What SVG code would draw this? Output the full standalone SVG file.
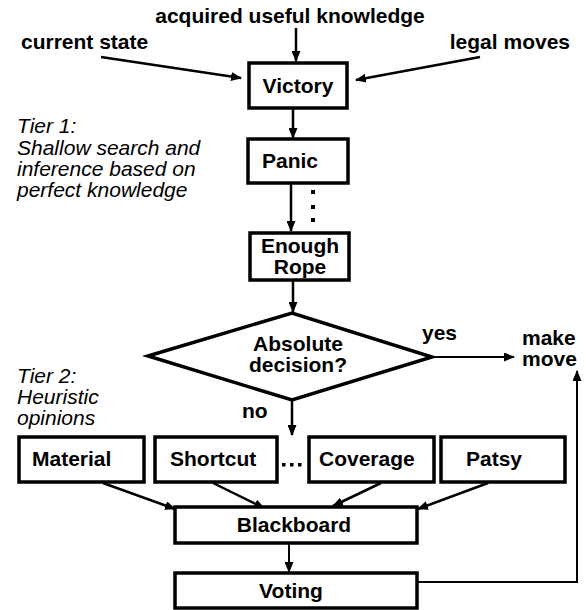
<svg xmlns="http://www.w3.org/2000/svg" width="586" height="610" viewBox="0 0 586 610">
<defs>
<marker id="ah" markerWidth="11" markerHeight="9" refX="10" refY="4.5" orient="auto" markerUnits="userSpaceOnUse">
<path d="M0,0 L11,4.5 L0,9 Z" fill="#000"/>
</marker>
<style>
.box{fill:#fff;stroke:#000;stroke-width:3.5}
.lbl{font-family:"Liberation Sans",Arial,sans-serif;font-weight:bold;font-size:21px;fill:#000}
.it{font-family:"Liberation Sans",Arial,sans-serif;font-style:italic;font-size:21px;fill:#000}
.ln{fill:none;stroke:#000;stroke-width:2.5}
.thin{fill:none;stroke:#000;stroke-width:2}
</style>
</defs>
<rect width="586" height="610" fill="#fff"/>
<g id="texts">
<text class="lbl" x="290" y="23" text-anchor="middle">acquired useful knowledge</text>
<text class="lbl" x="21" y="49">current state</text>
<text class="lbl" x="570" y="49" text-anchor="end">legal moves</text>
<text class="it" x="17" y="133">Tier 1:</text>
<text class="it" x="17" y="155">Shallow search and</text>
<text class="it" x="17" y="176">inference based on</text>
<text class="it" x="17" y="197">perfect knowledge</text>
<text class="it" x="17" y="383">Tier 2:</text>
<text class="it" x="17" y="404">Heuristic</text>
<text class="it" x="17" y="425">opinions</text>
<text class="lbl" x="422" y="340">yes</text>
<text class="lbl" x="522" y="345">make</text>
<text class="lbl" x="522" y="366">move</text>
<text class="lbl" x="242" y="418">no</text>
</g>
<g id="connectors">
<line class="ln" x1="296" y1="28" x2="296" y2="61" marker-end="url(#ah)"/>
<line class="ln" x1="101" y1="57" x2="241" y2="78" marker-end="url(#ah)"/>
<line class="ln" x1="480" y1="57" x2="356" y2="80" marker-end="url(#ah)"/>
<line class="ln" x1="293" y1="108" x2="293" y2="138" marker-end="url(#ah)"/>
<line class="ln" x1="291" y1="183" x2="291" y2="231" marker-end="url(#ah)"/>
<line class="ln" x1="293" y1="280" x2="293" y2="312" marker-end="url(#ah)"/>
<line class="thin" x1="432" y1="357" x2="514" y2="357" marker-end="url(#ah)"/>
<line class="ln" x1="292" y1="400" x2="292" y2="435" marker-end="url(#ah)"/>
<line class="ln" x1="103" y1="483" x2="175" y2="509" marker-end="url(#ah)"/>
<line class="ln" x1="213" y1="483" x2="264" y2="508" marker-end="url(#ah)"/>
<line class="ln" x1="381" y1="483" x2="333" y2="506" marker-end="url(#ah)"/>
<line class="ln" x1="488" y1="483" x2="418" y2="509" marker-end="url(#ah)"/>
<line class="thin" x1="289" y1="543" x2="289" y2="572" marker-end="url(#ah)"/>
<polyline class="thin" points="418,582 577,582 577,371" marker-end="url(#ah)"/>
</g>
<g id="dots">
<rect x="311" y="190" width="4" height="4"/>
<rect x="311" y="205" width="4" height="4"/>
<rect x="311" y="218" width="4" height="4"/>
<rect x="282" y="463" width="3.5" height="3.5"/>
<rect x="290" y="463" width="3.5" height="3.5"/>
<rect x="298" y="463" width="3.5" height="3.5"/>
</g>
<g id="victory"><rect class="box" x="249" y="63" width="98" height="45"/><text class="lbl" x="298" y="93" text-anchor="middle">Victory</text></g>
<g id="panic"><rect class="box" x="248" y="139" width="100" height="44"/><text class="lbl" x="262" y="168">Panic</text></g>
<g id="enough-rope"><rect class="box" x="250" y="233" width="99" height="47"/><text class="lbl" x="300" y="253" text-anchor="middle">Enough</text><text class="lbl" x="300" y="274" text-anchor="middle">Rope</text></g>
<g id="decision"><polygon class="box" points="148,356 292,313 432,357 292,400" stroke-width="4.5" stroke-linejoin="miter"/><text class="lbl" x="298" y="351" text-anchor="middle">Absolute</text><text class="lbl" x="298" y="372" text-anchor="middle">decision?</text></g>
<g id="material"><rect class="box" x="19" y="437" width="125" height="45"/><text class="lbl" x="32" y="466">Material</text></g>
<g id="shortcut"><rect class="box" x="155" y="437" width="122" height="45"/><text class="lbl" x="170" y="466">Shortcut</text></g>
<g id="coverage"><rect class="box" x="309" y="437" width="125" height="45"/><text class="lbl" x="319" y="466">Coverage</text></g>
<g id="patsy"><rect class="box" x="441" y="437" width="124" height="45"/><text class="lbl" x="466" y="466">Patsy</text></g>
<g id="blackboard"><rect class="box" x="175" y="507" width="242" height="36"/><text class="lbl" x="294" y="532" text-anchor="middle">Blackboard</text></g>
<g id="voting"><rect class="box" x="175" y="573" width="242" height="35"/><text class="lbl" x="291" y="598" text-anchor="middle">Voting</text></g>
</svg>
